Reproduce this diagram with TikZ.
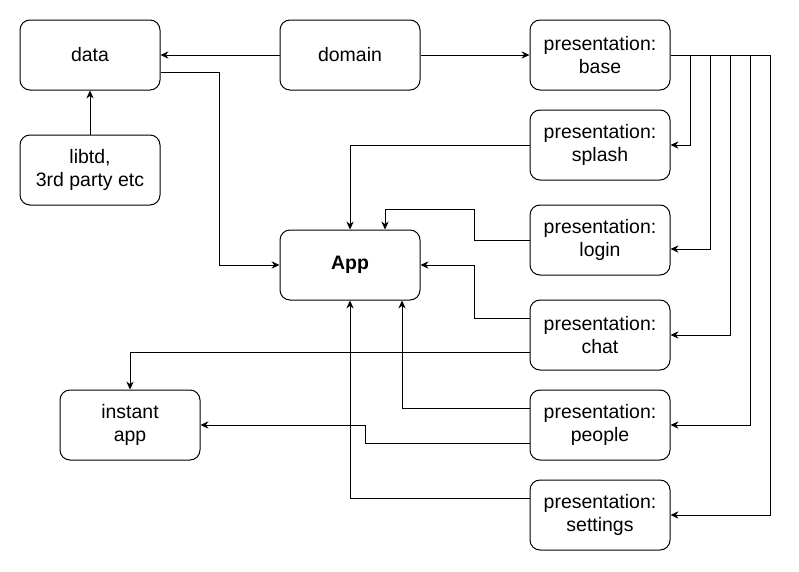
\documentclass[tikz,border=0pt]{standalone}
\usepackage{fontspec}
\setmainfont{Liberation Sans}
\usetikzlibrary{arrows.meta,calc}
\begin{document}
\begin{tikzpicture}[x=0.75pt,y=-0.75pt,
  box/.style={draw,line width=0.75pt,rounded corners=7.5pt,minimum width=105pt,minimum height=52.5pt,align=center,inner sep=0pt,font=\fontsize{14.6}{17.2}\selectfont},
  arr/.style={draw,line width=0.75pt,-{Stealth[length=6pt,width=5.5pt,inset=2pt]}}]
\useasboundingbox (0,0) rectangle (799,571);
\node[box] (data) at (90,55) {data};
\node[box] (libtd) at (90,170) {libtd,\\3rd party etc};
\node[box] (domain) at (350,55) {domain};
\node[box] (base) at (600,55) {presentation:\\base};
\node[box] (splash) at (600,145) {presentation:\\splash};
\node[box] (login) at (600,240) {presentation:\\login};
\node[box] (chat) at (600,335) {presentation:\\chat};
\node[box] (people) at (600,425) {presentation:\\people};
\node[box] (settings) at (600,515) {presentation:\\settings};
\node[box,font=\fontsize{14.6}{17.2}\selectfont\bfseries] (App) at (350,265) {App};
\node[box] (instant) at (130,425) {instant\\app};

\draw[arr] (domain.west) -- (data.east);
\draw[arr] (domain.east) -- (base.west);
\draw[arr] (libtd) -- (data);
\draw[arr] ($(data.east)+(0,17)$) -| ($(App.west)+(-60,0)$) -- (App.west);

\draw[arr] (base.east) -- ++(20,0) |- (splash.east);
\draw[arr] (base.east) -- ++(40,0) |- ($(login.east)+(0,9)$);
\draw[arr] (base.east) -- ++(60,0) |- (chat.east);
\draw[arr] (base.east) -- ++(80,0) |- (people.east);
\draw[arr] (base.east) -- ++(100,0) |- (settings.east);

\draw[arr] (splash.west) -| (App.north);
\draw[arr] (login.west) -- ++(-55,0) |- ($(App.north)+(35,-20)$) -- ($(App.north)+(35,0)$);
\draw[arr] ($(chat.west)+(0,-17)$) -- ++(-55,0) |- (App.east);
\draw[arr] ($(chat.west)+(0,17)$) -| (instant.north);
\draw[arr] ($(people.west)+(0,-17)$) -| ($(App.south)+(52,0)$);
\draw[arr] ($(people.west)+(0,18)$) -- ++(-164,0) |- (instant.east);
\draw[arr] ($(settings.west)+(0,-17)$) -| (App.south);
\end{tikzpicture}
\end{document}
